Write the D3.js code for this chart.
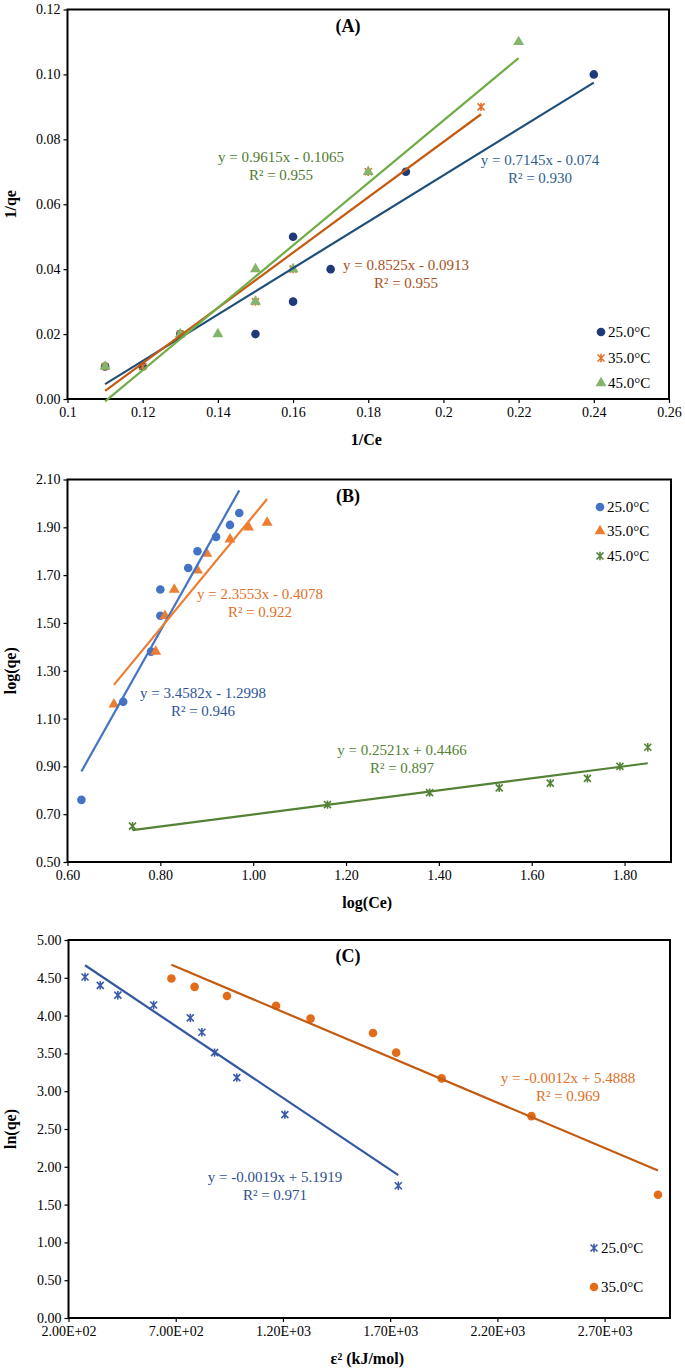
<!DOCTYPE html>
<html>
<head>
<meta charset="utf-8">
<script src="https://cdn.jsdelivr.net/npm/d3@7"></script>
<style>
  body { margin: 0; background: #fff; }
  svg { display: block; }
  text { font-family: "Liberation Serif", "Times New Roman", serif; }
</style>
</head>
<body>
<svg id="chart" width="685" height="1371"></svg>
<script>
// ---- panel A : 1/qe vs 1/Ce ----
const aX25 = [0.11, 0.12, 0.13, 0.15, 0.16, 0.16, 0.17, 0.19, 0.24];
const aY25 = [0.01, 0.01, 0.02, 0.02, 0.03, 0.05, 0.04, 0.07, 0.10];
const aX35 = [0.11, 0.12, 0.13, 0.15, 0.16, 0.18, 0.21];
const aY35 = [0.01, 0.01, 0.02, 0.03, 0.04, 0.07, 0.09];
const aX45 = [0.11, 0.13, 0.14, 0.15, 0.15, 0.16, 0.18, 0.22];
const aY45 = [0.01, 0.02, 0.02, 0.03, 0.04, 0.04, 0.07, 0.11];
const aFits = [[0.7145, -0.074], [0.8525, -0.0913], [0.9615, -0.1065]];
const aEq = [["y = 0.7145x - 0.074", "R² = 0.930"], ["y = 0.8525x - 0.0913", "R² = 0.955"], ["y = 0.9615x - 0.1065", "R² = 0.955"]];
const aXTicks = [0.1, 0.12, 0.14, 0.16, 0.18, 0.2, 0.22, 0.24, 0.26];
const aXLabels = ["0.1", "0.12", "0.14", "0.16", "0.18", "0.2", "0.22", "0.24", "0.26"];
const aYTicks = [0, 0.02, 0.04, 0.06, 0.08, 0.10, 0.12];
const aYLabels = ["0.00", "0.02", "0.04", "0.06", "0.08", "0.10", "0.12"];

// ---- panel B : log(qe) vs log(Ce) ----
const bX25 = [0.63, 0.72, 0.78, 0.80, 0.80, 0.86, 0.88, 0.92, 0.95, 0.97];
const bY25 = [0.76, 1.17, 1.38, 1.53, 1.64, 1.73, 1.80, 1.86, 1.91, 1.96];
const bX35 = [0.70, 0.79, 0.81, 0.83, 0.88, 0.90, 0.95, 0.99, 1.03];
const bY35 = [1.16, 1.38, 1.53, 1.64, 1.72, 1.79, 1.85, 1.90, 1.92];
const bX45 = [0.74, 1.16, 1.38, 1.53, 1.64, 1.72, 1.79, 1.85];
const bY45 = [0.65, 0.74, 0.79, 0.81, 0.83, 0.85, 0.90, 0.98];
const bFits = [[3.4582, -1.2998], [2.3553, -0.4078], [0.2521, 0.4466]];
const bEq = [["y = 3.4582x - 1.2998", "R² = 0.946"], ["y = 2.3553x - 0.4078", "R² = 0.922"], ["y = 0.2521x + 0.4466", "R² = 0.897"]];
const bXTicks = [0.6, 0.8, 1.0, 1.2, 1.4, 1.6, 1.8];
const bXLabels = ["0.60", "0.80", "1.00", "1.20", "1.40", "1.60", "1.80"];
const bYTicks = [0.5, 0.7, 0.9, 1.1, 1.3, 1.5, 1.7, 1.9, 2.1];
const bYLabels = ["0.50", "0.70", "0.90", "1.10", "1.30", "1.50", "1.70", "1.90", "2.10"];

// ---- panel C : ln(qe) vs eps^2 ----
const cX25 = [277, 348, 430, 597, 768, 822, 881, 985, 1209, 1738];
const cY25 = [4.51, 4.40, 4.27, 4.14, 3.97, 3.78, 3.51, 3.18, 2.69, 1.75];
const cX35 = [680, 788, 939, 1168, 1329, 1620, 1728, 1940, 2359, 2949];
const cY35 = [4.49, 4.38, 4.26, 4.13, 3.96, 3.77, 3.51, 3.17, 2.67, 1.63];
const cFits = [[-0.0019, 5.1919], [-0.0012, 5.4888]];
const cEq = [["y = -0.0019x + 5.1919", "R² = 0.971"], ["y = -0.0012x + 5.4888", "R² = 0.969"]];
const cXTicks = [200, 700, 1200, 1700, 2200, 2700];
const cXLabels = ["2.00E+02", "7.00E+02", "1.20E+03", "1.70E+03", "2.20E+03", "2.70E+03"];
const cYTicks = [0, 0.5, 1, 1.5, 2, 2.5, 3, 3.5, 4, 4.5, 5];
const cYLabels = ["0.00", "0.50", "1.00", "1.50", "2.00", "2.50", "3.00", "3.50", "4.00", "4.50", "5.00"];

const seriesNames = ["25.0°C", "35.0°C", "45.0°C"];

const svg = d3.select("#chart");

const starPath = "M-3.5,-3.5L3.5,3.5M-3.5,3.5L3.5,-3.5M0,-4.2L0,4.2";

const drawMarker = (g, kind, color, x, y) => {
  if (kind === "circle") {
    g.append("circle").attr("cx", x).attr("cy", y).attr("r", 4.3).attr("fill", color);
  } else if (kind === "triangle") {
    g.append("path").attr("transform", `translate(${x},${y})`)
      .attr("d", d3.symbol().type(d3.symbolTriangle).size(52)()).attr("fill", color);
  } else {
    g.append("path").attr("transform", `translate(${x},${y})`)
      .attr("d", starPath).attr("stroke", color).attr("stroke-width", 1.6).attr("fill", "none");
  }
};

const drawPanel = (p) => {
  const g = svg.append("g");
  const x = d3.scaleLinear().domain(p.xDomain).range([p.left, p.right]);
  const y = d3.scaleLinear().domain(p.yDomain).range([p.bottom, p.top]);

  // axes
  g.append("g").attr("transform", `translate(0,${p.bottom})`)
    .call(d3.axisBottom(x).tickValues(p.xTicks).tickSize(4).tickPadding(4)
      .tickFormat((d, i) => p.xLabels[i]))
    .call(a => a.select(".domain").remove())
    .call(a => a.selectAll("line").attr("stroke", "#000").attr("stroke-width", 1.2))
    .call(a => a.selectAll("text").attr("font-size", 14).attr("fill", "#000")
      .attr("font-family", "Liberation Serif"));
  g.append("g").attr("transform", `translate(${p.left},0)`)
    .call(d3.axisLeft(y).tickValues(p.yTicks).tickSize(4).tickPadding(3)
      .tickFormat((d, i) => p.yLabels[i]))
    .call(a => a.select(".domain").remove())
    .call(a => a.selectAll("line").attr("stroke", "#000").attr("stroke-width", 1.2))
    .call(a => a.selectAll("text").attr("font-size", 14).attr("fill", "#000")
      .attr("font-family", "Liberation Serif"));

  g.append("rect").attr("x", p.left).attr("y", p.top)
    .attr("width", p.right - p.left).attr("height", p.bottom - p.top)
    .attr("fill", "none").attr("stroke", "#000").attr("stroke-width", 2);

  // markers
  p.series.forEach(s => {
    s.xs.forEach((v, i) => drawMarker(g, s.marker, s.color, x(v), y(s.ys[i])));
  });

  // trend lines
  p.series.forEach((s, k) => {
    const [m, c] = p.fits[k];
    const x0 = d3.min(s.xs), x1 = d3.max(s.xs);
    g.append("line")
      .attr("x1", x(x0)).attr("y1", y(m * x0 + c))
      .attr("x2", x(x1)).attr("y2", y(m * x1 + c))
      .attr("stroke", s.lineColor).attr("stroke-width", 2.2);
  });

  // equations
  p.series.forEach((s, k) => {
    const pos = p.eqPos[k];
    g.append("text").attr("x", pos[0]).attr("y", pos[1]).attr("text-anchor", "middle")
      .attr("font-size", 15).attr("fill", s.textColor).text(p.eq[k][0]);
    g.append("text").attr("x", pos[0]).attr("y", pos[1] + 18).attr("text-anchor", "middle")
      .attr("font-size", 15).attr("fill", s.textColor).text(p.eq[k][1]);
  });

  // legend
  p.series.forEach((s, k) => {
    const ly = p.legendY[k];
    drawMarker(g, s.marker, s.color, p.legendX, ly);
    g.append("text").attr("x", p.legendX + 7).attr("y", ly + 5)
      .attr("font-size", 15).attr("fill", "#000").text(seriesNames[k]);
  });

  // title and axis titles
  g.append("text").attr("x", 348).attr("y", p.top + 22).attr("text-anchor", "middle")
    .attr("font-size", 18).attr("font-weight", "bold").text(p.title);
  g.append("text").attr("x", (p.left + p.right) / 2 - 2).attr("y", p.bottom + 46)
    .attr("text-anchor", "middle").attr("font-size", 16).attr("font-weight", "bold").text(p.xTitle);
  g.append("text").attr("transform", `translate(16,${(p.top + p.bottom) / 2}) rotate(-90)`)
    .attr("text-anchor", "middle").attr("font-size", 16).attr("font-weight", "bold").text(p.yTitle);
};

drawPanel({
  left: 67.5, right: 669, top: 9.5, bottom: 399,
  xDomain: [0.1, 0.26], yDomain: [0, 0.12],
  xTicks: aXTicks, xLabels: aXLabels, yTicks: aYTicks, yLabels: aYLabels,
  series: [
    { xs: aX25, ys: aY25, marker: "circle", color: "#1f3a7a", lineColor: "#1f4e79", textColor: "#2f5f8f" },
    { xs: aX35, ys: aY35, marker: "star", color: "#e0702a", lineColor: "#c55a11", textColor: "#a8501c" },
    { xs: aX45, ys: aY45, marker: "triangle", color: "#85b56a", lineColor: "#70ad47", textColor: "#4f7a2e" }
  ],
  fits: aFits, eq: aEq,
  eqPos: [[540, 165], [406, 270], [281, 162]],
  legendX: 601, legendY: [332, 358, 383],
  title: "(A)", xTitle: "1/Ce", yTitle: "1/qe"
});

drawPanel({
  left: 67.5, right: 671, top: 479.5, bottom: 862,
  xDomain: [0.6, 1.9], yDomain: [0.5, 2.1],
  xTicks: bXTicks, xLabels: bXLabels, yTicks: bYTicks, yLabels: bYLabels,
  series: [
    { xs: bX25, ys: bY25, marker: "circle", color: "#4472c4", lineColor: "#4472c4", textColor: "#2f5597" },
    { xs: bX35, ys: bY35, marker: "triangle", color: "#ed7d31", lineColor: "#ed7d31", textColor: "#e07028" },
    { xs: bX45, ys: bY45, marker: "star", color: "#548235", lineColor: "#548235", textColor: "#548235" }
  ],
  fits: bFits, eq: bEq,
  eqPos: [[203, 698], [260, 599], [402, 755]],
  legendX: 600, legendY: [507, 531, 556],
  title: "(B)", xTitle: "log(Ce)", yTitle: "log(qe)"
});

drawPanel({
  left: 68.5, right: 670, top: 940, bottom: 1318,
  xDomain: [200, 3005], yDomain: [0, 5],
  xTicks: cXTicks, xLabels: cXLabels, yTicks: cYTicks, yLabels: cYLabels,
  series: [
    { xs: cX25, ys: cY25, marker: "star", color: "#3a5aa8", lineColor: "#3557a0", textColor: "#2f4f8f" },
    { xs: cX35, ys: cY35, marker: "circle", color: "#e36c1a", lineColor: "#c55a11", textColor: "#e07028" }
  ],
  fits: cFits, eq: cEq.slice(0, 2),
  eqPos: [[275, 1182], [568, 1083]],
  legendX: 594, legendY: [1248, 1287],
  title: "(C)", xTitle: "ε² (kJ/mol)", yTitle: "ln(qe)"
});
</script>
</body>
</html>
